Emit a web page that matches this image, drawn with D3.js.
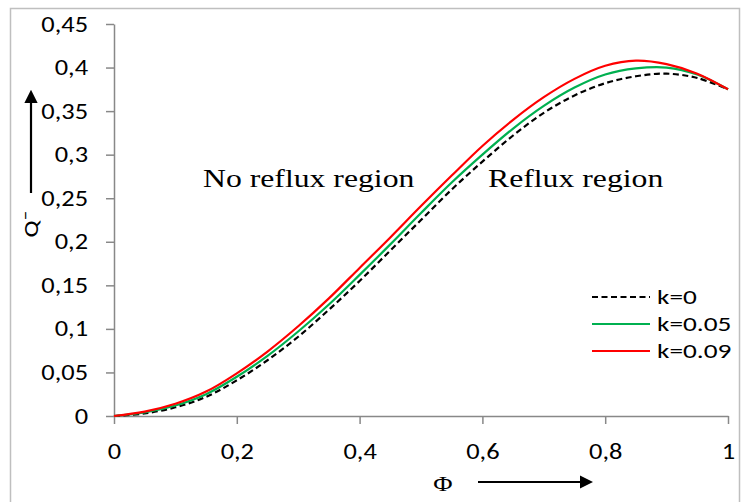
<!DOCTYPE html>
<html>
<head>
<meta charset="utf-8">
<script src="https://cdn.jsdelivr.net/npm/d3@7"></script>
<style>
  body { margin: 0; background: #fff; }
  svg text { font-family: Carlito, Calibri, "Open Sans", "Noto Sans", sans-serif; }
</style>
</head>
<body>
<div id="chart"></div>
<script>
// Phi values and Q values for each k
const phi = [0, 0.05, 0.1, 0.15, 0.2, 0.25, 0.3, 0.35, 0.4, 0.45, 0.5, 0.55, 0.6, 0.65, 0.7, 0.75, 0.8, 0.85, 0.9, 0.95, 1];
const qK0 = [0, 0.003, 0.010, 0.022, 0.041, 0.064, 0.091, 0.122, 0.155, 0.190, 0.225, 0.260, 0.292, 0.322, 0.348, 0.368, 0.382, 0.390, 0.393, 0.388, 0.375];
const qK005 = [0, 0.004, 0.012, 0.025, 0.045, 0.069, 0.097, 0.128, 0.162, 0.197, 0.233, 0.268, 0.300, 0.330, 0.356, 0.377, 0.392, 0.399, 0.400, 0.392, 0.375];
const qK009 = [0, 0.005, 0.014, 0.028, 0.049, 0.074, 0.103, 0.135, 0.170, 0.205, 0.241, 0.276, 0.310, 0.340, 0.366, 0.387, 0.402, 0.408, 0.404, 0.393, 0.375];
const xTicks = [0, 0.2, 0.4, 0.6, 0.8, 1];
const yTicks = [0, 0.05, 0.1, 0.15, 0.2, 0.25, 0.3, 0.35, 0.4, 0.45];

const series = [
    { name: "k=0", values: qK0, color: "#000", dash: "6,3.5" },
    { name: "k=0.05", values: qK005, color: "#00b050", dash: null },
    { name: "k=0.09", values: qK009, color: "#ff0000", dash: null }
];

const width = 744, height = 502;
const sx = 1.2; // text in the original is stretched horizontally

const svg = d3.select("#chart").append("svg")
    .attr("width", width)
    .attr("height", height);

// outer frame
svg.append("rect")
    .attr("x", 10.5).attr("y", 8.5)
    .attr("width", 729).attr("height", 510)
    .attr("fill", "none").attr("stroke", "#bfbfbf").attr("stroke-width", 1.5);

const x = d3.scaleLinear().domain([0, 1]).range([114, 728]);
const y = d3.scaleLinear().domain([0, 0.45]).range([416, 24]);
const fmt = d => String(d).replace(".", ",");

// x axis
const gx = svg.append("g")
    .attr("transform", `translate(0, ${y(0)})`)
    .call(d3.axisBottom(x).tickValues(xTicks).tickFormat(fmt).tickSize(8).tickSizeOuter(0).tickPadding(19));
// y axis
const gy = svg.append("g")
    .attr("transform", `translate(${x(0)}, 0)`)
    .call(d3.axisLeft(y).tickValues(yTicks).tickFormat(fmt).tickSize(8).tickSizeOuter(0).tickPadding(18));

[gx, gy].forEach(g => {
    g.select(".domain").attr("stroke", "#888").attr("stroke-width", 1.5);
    g.selectAll(".tick line").attr("stroke", "#888").attr("stroke-width", 1.5);
    g.selectAll(".tick text").attr("fill", "#000").style("font-size", "22px")
        .attr("transform", `scale(${sx},1)`);
});
gy.selectAll(".tick text").attr("x", -26 / sx);

// curves
const line = d3.line()
    .x((d, i) => x(phi[i]))
    .y(d => y(d))
    .curve(d3.curveCatmullRom);

series.forEach(s => {
    svg.append("path")
        .datum(s.values)
        .attr("d", line)
        .attr("fill", "none")
        .attr("stroke", s.color)
        .attr("stroke-width", 2.2)
        .attr("stroke-dasharray", s.dash);
});

// legend
const legend = svg.append("g");
series.forEach((s, i) => {
    const ly = 297 + i * 27;
    legend.append("line")
        .attr("x1", 592).attr("x2", 650)
        .attr("y1", ly).attr("y2", ly)
        .attr("stroke", s.color).attr("stroke-width", 2.2)
        .attr("stroke-dasharray", s.dash);
    legend.append("text")
        .attr("transform", `translate(657, ${ly + 7}) scale(1.3,1)`)
        .style("font-size", "21px")
        .text(s.name);
});

// region annotations
const serif = "'Liberation Serif', 'Times New Roman', serif";
svg.append("text")
    .attr("transform", "translate(203, 187) scale(1.22,1)")
    .style("font-family", serif)
    .style("font-size", "26px")
    .text("No reflux region");
svg.append("text")
    .attr("transform", "translate(488, 187) scale(1.22,1)")
    .style("font-family", serif)
    .style("font-size", "26px")
    .text("Reflux region");

// arrow marker
svg.append("defs").append("marker")
    .attr("id", "arrow")
    .attr("viewBox", "0 0 10 10")
    .attr("refX", 0).attr("refY", 5)
    .attr("markerWidth", 6).attr("markerHeight", 6)
    .attr("markerUnits", "strokeWidth")
    .attr("orient", "auto")
    .append("path").attr("d", "M0,0 L10,5 L0,10 Z").attr("fill", "#000");

// y label with arrow
svg.append("text")
    .attr("transform", "translate(38, 224) rotate(-90) scale(1.2,1)")
    .attr("text-anchor", "middle")
    .style("font-size", "21px")
    .text("Q\u00AF");
svg.append("line")
    .attr("x1", 31).attr("x2", 31)
    .attr("y1", 193).attr("y2", 103)
    .attr("stroke", "#000").attr("stroke-width", 2.2)
    .attr("marker-end", "url(#arrow)");

// x label with arrow
svg.append("text")
    .attr("transform", "translate(443, 491) scale(1.2,1)")
    .attr("text-anchor", "middle")
    .style("font-family", serif)
    .style("font-size", "22px")
    .text("\u03A6");
svg.append("line")
    .attr("x1", 478).attr("x2", 580)
    .attr("y1", 482).attr("y2", 482)
    .attr("stroke", "#000").attr("stroke-width", 2.2)
    .attr("marker-end", "url(#arrow)");
</script>
</body>
</html>
